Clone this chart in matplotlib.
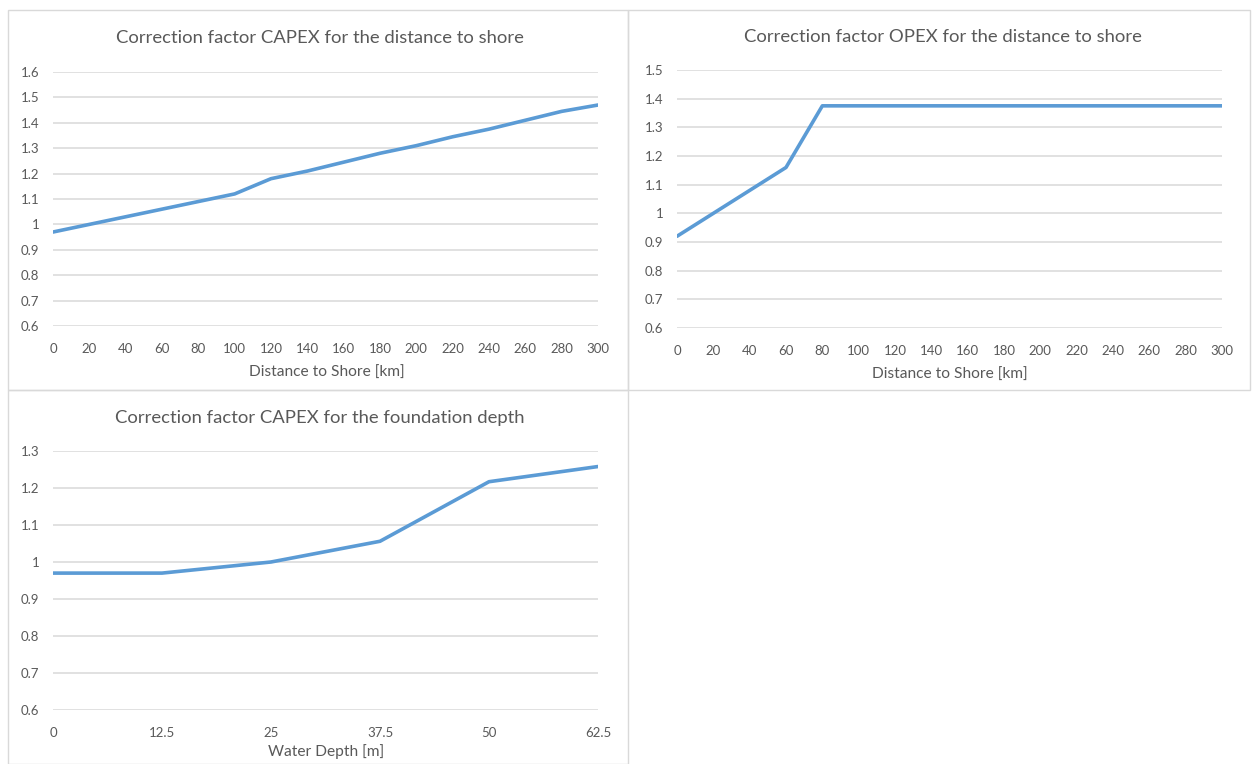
import matplotlib.pyplot as plt
from matplotlib.patches import Rectangle
from matplotlib.ticker import FuncFormatter

plt.rcParams['font.family'] = ['Lato', 'DejaVu Sans']

# data
dist_capex = [0, 20, 40, 60, 80, 100, 120, 140, 160, 180, 200, 220, 240, 260, 280, 300]
capex_dist = [0.97, 1.00, 1.03, 1.06, 1.09, 1.12, 1.18, 1.21, 1.245, 1.28, 1.31, 1.345,
              1.375, 1.41, 1.445, 1.47]

dist_opex = [0, 20, 40, 60, 80, 100, 120, 140, 160, 180, 200, 220, 240, 260, 280, 300]
opex_dist = [0.92, 1.00, 1.08, 1.16, 1.375, 1.375, 1.375, 1.375, 1.375, 1.375, 1.375,
             1.375, 1.375, 1.375, 1.375, 1.375]

depth = [0, 12.5, 25, 37.5, 50, 62.5]
capex_depth = [0.97, 0.97, 1.00, 1.056, 1.217, 1.258]

W, H = 1252, 764
fig = plt.figure(figsize=(W / 100, H / 100), dpi=100)

line_col = '#5b9bd5'
grid_col = '#d9d9d9'
txt_col = '#595959'


def px_axes(x0, x1, ytop, ybot):
    return fig.add_axes([x0 / W, (H - ybot) / H, (x1 - x0) / W, (ybot - ytop) / H])


def style(ax, x, y, xticks, yticks, ylim):
    ax.plot(x, y, color=line_col, lw=2.6, solid_capstyle='round', solid_joinstyle='round')
    ax.set_xlim(xticks[0], xticks[-1])
    ax.set_ylim(*ylim)
    ax.set_xticks(xticks)
    ax.set_yticks(yticks)
    ax.xaxis.set_major_formatter(FuncFormatter(lambda v, p: ('%g' % v)))
    ax.yaxis.set_major_formatter(FuncFormatter(lambda v, p: ('%g' % round(v, 1))))
    ax.grid(axis='y', color=grid_col, lw=1.1)
    ax.set_axisbelow(True)
    for s in ax.spines.values():
        s.set_visible(False)
    ax.tick_params(length=0, labelsize=9.5, colors=txt_col)
    ax.tick_params(axis='x', pad=12)
    ax.tick_params(axis='y', pad=10)
    ax.set_facecolor('none')


# chart frames
fig.add_artist(Rectangle((8 / W, (H - 390) / H), 620 / W, 380 / H, transform=fig.transFigure,
                         fill=False, edgecolor=grid_col, lw=1))
fig.add_artist(Rectangle((628 / W, (H - 390) / H), 622 / W, 380 / H, transform=fig.transFigure,
                         fill=False, edgecolor=grid_col, lw=1))
fig.add_artist(Rectangle((8 / W, 0), 620 / W, (H - 390) / H, transform=fig.transFigure,
                         fill=False, edgecolor=grid_col, lw=1))

yt1 = [0.6, 0.7, 0.8, 0.9, 1.0, 1.1, 1.2, 1.3, 1.4, 1.5, 1.6]
ax1 = px_axes(53, 598, 72, 326)
style(ax1, dist_capex, capex_dist, list(range(0, 301, 20)), yt1, (0.6, 1.6))
fig.text(320 / W, 1 - 38 / H, 'Correction factor CAPEX for the distance to shore',
         ha='center', va='center', fontsize=13.3, color=txt_col)
fig.text(327 / W, 1 - 373 / H, 'Distance to Shore [km]', ha='center', va='center',
         fontsize=11.2, color=txt_col)

yt2 = [0.6, 0.7, 0.8, 0.9, 1.0, 1.1, 1.2, 1.3, 1.4, 1.5]
ax2 = px_axes(677, 1222, 70, 328)
style(ax2, dist_opex, opex_dist, list(range(0, 301, 20)), yt2, (0.6, 1.5))
fig.text(943 / W, 1 - 37 / H, 'Correction factor OPEX for the distance to shore',
         ha='center', va='center', fontsize=13.3, color=txt_col)
fig.text(950 / W, 1 - 375 / H, 'Distance to Shore [km]', ha='center', va='center',
         fontsize=11.2, color=txt_col)

yt3 = [0.6, 0.7, 0.8, 0.9, 1.0, 1.1, 1.2, 1.3]
ax3 = px_axes(53, 598, 451, 710)
style(ax3, depth, capex_depth, depth, yt3, (0.6, 1.3))
fig.text(320 / W, 1 - 418 / H, 'Correction factor CAPEX for the foundation depth',
         ha='center', va='center', fontsize=13.3, color=txt_col)
fig.text(326 / W, 1 - 752 / H, 'Water Depth [m]', ha='center', va='center',
         fontsize=11.2, color=txt_col)

fig.savefig('out.png', dpi=100, facecolor='white')
